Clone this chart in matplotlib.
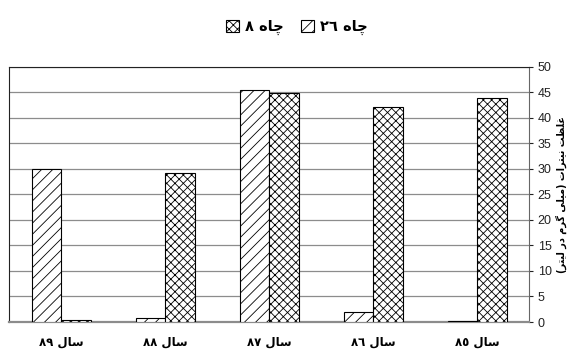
import matplotlib
matplotlib.use('Agg')
import matplotlib.pyplot as plt
from matplotlib.patches import Patch
import numpy as np

# display order, left to right (RTL chart: oldest year on the right)
years = ['٨٩', '٨٨', '٨٧', '٨٦', '٨٥']
well26 = [30.0, 0.7, 45.4, 1.9, 0.15]
well8 = [0.3, 29.3, 44.9, 42.2, 44.0]
yticks = [0, 5, 10, 15, 20, 25, 30, 35, 40, 45, 50]

# arabic presentation forms: isolated, final, initial, medial
FORMS = {
    'ا': ('\uFE8D', '\uFE8E'),
    'د': ('\uFEA9', '\uFEAA'),
    'ر': ('\uFEAD', '\uFEAE'),
    'چ': ('\uFB7A', '\uFB7B', '\uFB7C', '\uFB7D'),
    'ه': ('\uFEE9', '\uFEEA', '\uFEEB', '\uFEEC'),
    'س': ('\uFEB1', '\uFEB2', '\uFEB3', '\uFEB4'),
    'ل': ('\uFEDD', '\uFEDE', '\uFEDF', '\uFEE0'),
    'غ': ('\uFECD', '\uFECE', '\uFECF', '\uFED0'),
    'ظ': ('\uFEC5', '\uFEC6', '\uFEC7', '\uFEC8'),
    'ت': ('\uFE95', '\uFE96', '\uFE97', '\uFE98'),
    'ن': ('\uFEE5', '\uFEE6', '\uFEE7', '\uFEE8'),
    'ی': ('\uFBFC', '\uFBFD', '\uFBFE', '\uFBFF'),
    'م': ('\uFEE1', '\uFEE2', '\uFEE3', '\uFEE4'),
    'گ': ('\uFB92', '\uFB93', '\uFB94', '\uFB95'),
}


def fa(text):
    out = []
    for i, c in enumerate(text):
        if c not in FORMS:
            out.append(c)
            continue
        prev = text[i - 1] if i > 0 else None
        nxt = text[i + 1] if i + 1 < len(text) else None
        jp = prev in FORMS and len(FORMS[prev]) == 4
        jn = nxt in FORMS and len(FORMS[c]) == 4
        f = FORMS[c]
        if jp and jn:
            out.append(f[3])
        elif jp:
            out.append(f[1])
        elif jn:
            out.append(f[2])
        else:
            out.append(f[0])
    vis = ''.join(reversed(out))
    # put digit runs back in LTR order, mirror parentheses
    res, run = '', ''
    for ch in vis:
        if '\u0660' <= ch <= '\u0669':
            run += ch
        else:
            res += run[::-1] + ch
            run = ''
    res += run[::-1]
    return res.translate(str.maketrans('()', ')('))


plt.rcParams['hatch.linewidth'] = 0.6
fa_font = dict(family=['DejaVu Sans'], weight='bold')

fig = plt.figure(figsize=(5.71, 3.56), dpi=100)
ax = fig.add_axes([0.0163, 0.0955, 0.9107, 0.7165])

x = np.arange(len(years))
w = 0.285
ax.bar(x - w / 2, well26, w, color='white', edgecolor='black', hatch='///', linewidth=0.8, zorder=3)
ax.bar(x + w / 2, well8, w, color='white', edgecolor='black', hatch='xxxx', linewidth=0.8, zorder=3)

ax.set_xlim(-0.5, len(years) - 0.5)
ax.set_ylim(0, 50)
ax.set_yticks(yticks)
ax.yaxis.tick_right()
ax.yaxis.set_label_position('right')
ax.tick_params(axis='y', length=3, pad=3, labelsize=9, colors='#222222')
for t in ax.get_yticklabels():
    t.set_family(['Liberation Sans Narrow', 'Liberation Sans'])
ax.grid(axis='y', color='#8c8c8c', linewidth=0.9, zorder=0)

ax.set_xticks(x)
ax.set_xticklabels([fa('سال ' + y) for y in years], fontsize=8.5, **fa_font)
ax.tick_params(axis='x', length=0, pad=10)

ax.set_ylabel(fa('غلظت نیترات (میلی گرم در لیتر)'), rotation=90, fontsize=7, labelpad=3, **fa_font)

ax.spines['top'].set_color('#222222')
ax.spines['left'].set_color('#222222')
ax.spines['right'].set_color('#666666')
ax.spines['bottom'].set_color('#8c8c8c')
ax.spines['bottom'].set_linewidth(1.6)

handles = [Patch(facecolor='white', edgecolor='black', hatch='xxxx', linewidth=0.8),
           Patch(facecolor='white', edgecolor='black', hatch='///', linewidth=0.8)]
labels = [fa('چاه ٨'), fa('چاه ٢٦')]
fig.legend(handles, labels, loc='center', bbox_to_anchor=(0.52, 0.925), ncol=2, frameon=False,
           handlelength=0.9, handleheight=0.9, handletextpad=0.4, columnspacing=1.2,
           prop={'family': 'DejaVu Sans', 'weight': 'bold', 'size': 10.5})

fig.savefig('out.png', dpi=100)
